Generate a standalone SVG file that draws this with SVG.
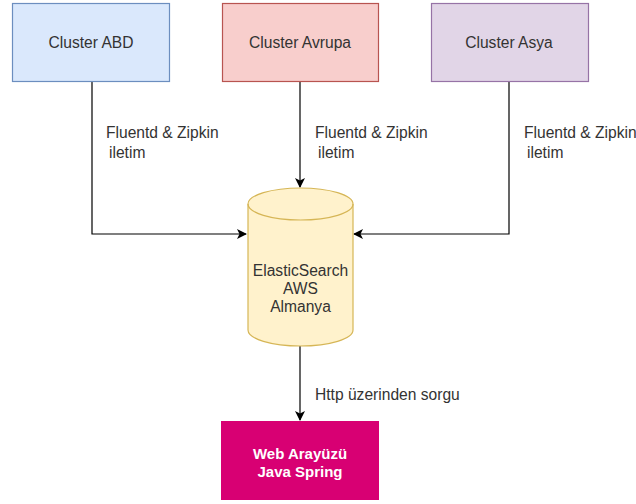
<svg xmlns="http://www.w3.org/2000/svg" width="636" height="504" viewBox="0 0 636 504">
<defs>
<marker id="arr" viewBox="0 0 10 10" refX="9" refY="5" markerWidth="10" markerHeight="10" markerUnits="userSpaceOnUse" orient="auto">
<path d="M0,0 L10,5 L0,10 L2.5,5 Z" fill="#000"/>
</marker>
</defs>
<style>
text{font-family:"Liberation Sans",Arial,sans-serif;font-size:15.6px;fill:#333}
.c{text-anchor:middle}
.e{fill:none;stroke:#000;stroke-width:1.2}
.w{fill:#fff;font-weight:bold;font-size:15px}
</style>
<rect width="636" height="504" fill="#fff"/>
<g id="connectors">
<polyline class="e" points="92,82 92,234 246,234" marker-end="url(#arr)"/>
<polyline class="e" points="300,82 300,187" marker-end="url(#arr)"/>
<polyline class="e" points="509,82 509,234 354,234" marker-end="url(#arr)"/>
<polyline class="e" points="300,346 300,420" marker-end="url(#arr)"/>
<text x="106" y="138">Fluentd &amp; Zipkin</text>
<text x="109" y="158">iletim</text>
<text x="315" y="138">Fluentd &amp; Zipkin</text>
<text x="318" y="158">iletim</text>
<text x="524" y="138">Fluentd &amp; Zipkin</text>
<text x="527" y="158">iletim</text>
<text x="315" y="400">Http üzerinden sorgu</text>
</g>
<g id="abd">
<rect x="12.5" y="3.5" width="157" height="78" fill="#dae8fc" stroke="#6c8ebf" stroke-width="1.2"/>
<text class="c" x="91" y="48">Cluster ABD</text>
</g>
<g id="avrupa">
<rect x="222.5" y="3.5" width="156" height="78" fill="#f8cecc" stroke="#b85450" stroke-width="1.2"/>
<text class="c" x="300" y="48">Cluster Avrupa</text>
</g>
<g id="asya">
<rect x="431.5" y="3.5" width="157" height="78" fill="#e1d5e7" stroke="#9673a6" stroke-width="1.2"/>
<text class="c" x="509" y="48">Cluster Asya</text>
</g>
<g id="elastic">
<path d="M248,204 A52.5,16 0 0 1 353,204 L353,330 A52.5,16 0 0 1 248,330 Z" fill="#fff2cc" stroke="#d6b656" stroke-width="1.2"/>
<path d="M248,204 A52.5,16 0 0 0 353,204" fill="none" stroke="#d6b656" stroke-width="1.2"/>
<text class="c" x="300.5" y="276">ElasticSearch</text>
<text class="c" x="300.5" y="294">AWS</text>
<text class="c" x="300.5" y="312">Almanya</text>
</g>
<g id="web">
<rect x="221" y="421" width="158" height="79" fill="#d80073"/>
<text class="c w" x="300" y="459">Web Arayüzü</text>
<text class="c w" x="300" y="477">Java Spring</text>
</g>
</svg>
